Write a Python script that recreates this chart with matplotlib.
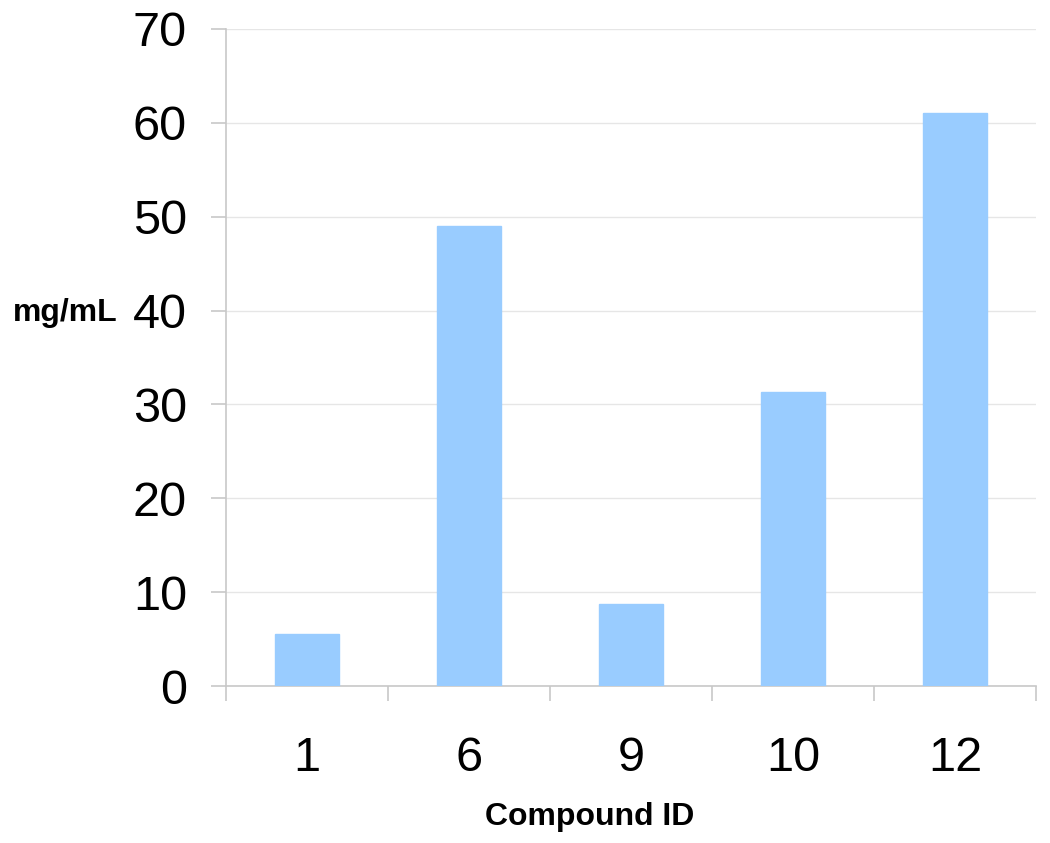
import numpy as np
import matplotlib.pyplot as plt

compounds = ['1', '6', '9', '10', '12']
values = [5.5, 49.0, 8.7, 31.3, 61.0]
yticks = [0, 10, 20, 30, 40, 50, 60, 70]

plt.rcParams['font.family'] = ['Liberation Sans', 'DejaVu Sans']

fig = plt.figure(figsize=(10.5, 8.43), dpi=100)
ax = fig.add_axes([226/1050, 1 - 686/843, (1036 - 226)/1050, (686 - 29)/843])

x = np.arange(len(compounds))
ax.bar(x, values, width=0.39, color='#99CCFF', edgecolor='#99CCFF', zorder=3)

ax.set_xlim(-0.5, len(compounds) - 0.5)
ax.set_ylim(0, 70)
ax.set_yticks(yticks)
ax.set_yticklabels([str(v) for v in yticks], fontsize=35)
ax.yaxis.grid(True, color='#e6e6e6', linewidth=1, zorder=0)

# category labels centred, boundary ticks as minor ticks
ax.set_xticks(x)
ax.set_xticklabels(compounds, fontsize=35)
ax.set_xticks(np.arange(-0.5, len(compounds)), minor=True)
ax.tick_params(axis='x', which='major', length=0, pad=36)
ax.tick_params(axis='x', which='minor', length=11, color='#c8c8c8', width=1.2)
ax.tick_params(axis='y', length=11, color='#c8c8c8', width=1.2, pad=17)

for side in ['top', 'right']:
    ax.spines[side].set_visible(False)
for side in ['left', 'bottom']:
    ax.spines[side].set_color('#c8c8c8')
    ax.spines[side].set_linewidth(1.2)

fig.text(590/1050, 1 - 817/843, 'Compound ID', fontsize=23, fontweight='bold',
         ha='center', va='center')
fig.text(65/1050, 1 - 313/843, 'mg/mL', fontsize=23, fontweight='bold',
         ha='center', va='center')

fig.savefig('out.png', dpi=100)
